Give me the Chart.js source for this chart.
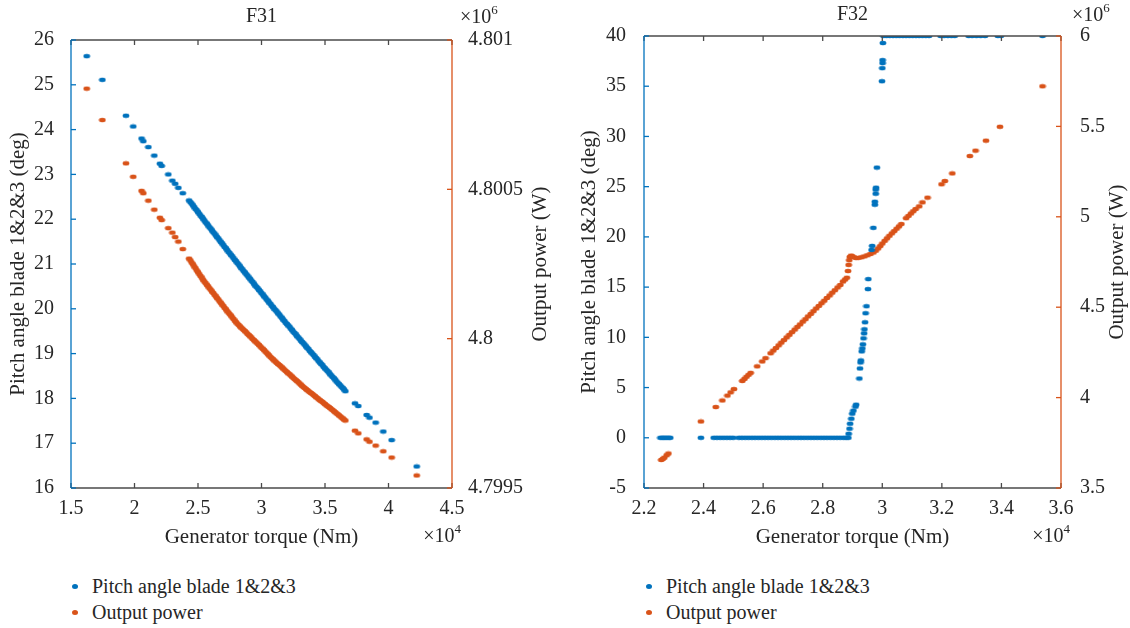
<!DOCTYPE html>
<html>
<head>
<meta charset="utf-8">
<script src="https://cdn.jsdelivr.net/npm/chart.js@4/dist/chart.umd.min.js"></script>
<style>
  body { margin: 0; background: #fff; width: 1130px; height: 628px; overflow: hidden; position: relative;
         font-family: "Liberation Serif", serif; color: #262626; }
  .panel { position: absolute; top: 0; height: 560px; }
  #panel1 { left: 0; width: 570px; }
  #panel2 { left: 570px; width: 560px; }
  .legend { position: absolute; top: 573px; font-size: 20px; line-height: 26px; }
  .legend div { position: relative; white-space: nowrap; }
  .legend span { position: absolute; left: -20px; top: 11px; width: 6px; height: 5px; border-radius: 50%; }
</style>
</head>
<body>
<div class="panel" id="panel1"><canvas id="f31" width="570" height="560"></canvas></div>
<div class="panel" id="panel2"><canvas id="f32" width="560" height="560"></canvas></div>
<div class="legend" style="left:92px">
  <div><span style="background:#0072BD"></span>Pitch angle blade 1&amp;2&amp;3</div>
  <div><span style="background:#D95319"></span>Output power</div>
</div>
<div class="legend" style="left:666px">
  <div><span style="background:#0072BD"></span>Pitch angle blade 1&amp;2&amp;3</div>
  <div><span style="background:#D95319"></span>Output power</div>
</div>
<script>
const BLUE = '#0072BD';
const ORANGE = '#D95319';
const INK = '#262626';
const FONT = '"Liberation Serif", "Times New Roman", serif';

// ---- F31: torque in 1e4 Nm, pitch in deg, power in 1e6 W ----
const f31Torque = [
  1.624, 1.747, 1.933, 1.990, 2.056, 2.069, 2.109, 2.156, 2.200, 2.214, 2.266, 2.298, 2.320, 2.345, 2.380,
  2.43, 2.44, 2.45, 2.46, 2.47, 2.48, 2.49, 2.50, 2.51, 2.52,
  2.53, 2.54, 2.55, 2.56, 2.57, 2.58, 2.59, 2.60, 2.61, 2.62,
  2.63, 2.64, 2.65, 2.66, 2.67, 2.68, 2.69, 2.70, 2.71, 2.72,
  2.73, 2.74, 2.75, 2.76, 2.77, 2.78, 2.79, 2.80, 2.81, 2.82,
  2.83, 2.84, 2.85, 2.86, 2.87, 2.88, 2.89, 2.90, 2.91, 2.92,
  2.93, 2.94, 2.95, 2.96, 2.97, 2.98, 2.99, 3.00, 3.01, 3.02,
  3.03, 3.04, 3.05, 3.06, 3.07, 3.08, 3.09, 3.10, 3.11, 3.12,
  3.13, 3.14, 3.15, 3.16, 3.17, 3.18, 3.19, 3.20, 3.21, 3.22,
  3.23, 3.24, 3.25, 3.26, 3.27, 3.28, 3.29, 3.30, 3.31, 3.32,
  3.33, 3.34, 3.35, 3.36, 3.37, 3.38, 3.39, 3.40, 3.41, 3.42,
  3.43, 3.44, 3.45, 3.46, 3.47, 3.48, 3.49, 3.50, 3.51, 3.52,
  3.53, 3.54, 3.55, 3.56, 3.57, 3.58, 3.59, 3.60, 3.61, 3.62,
  3.63, 3.64, 3.65, 3.66,
  3.736, 3.762, 3.828, 3.850, 3.899, 3.959, 4.025, 4.222
];
const f31Pitch = [
  25.64, 25.11, 24.31, 24.07, 23.80, 23.74, 23.61, 23.42, 23.24, 23.19, 23.00, 22.86, 22.79, 22.70, 22.58,
  22.42, 22.38, 22.35, 22.31, 22.27, 22.23, 22.20, 22.16, 22.12, 22.08,
  22.05, 22.01, 21.97, 21.93, 21.90, 21.86, 21.82, 21.79, 21.75, 21.71,
  21.68, 21.64, 21.60, 21.57, 21.53, 21.49, 21.46, 21.42, 21.38, 21.35,
  21.31, 21.27, 21.24, 21.20, 21.17, 21.13, 21.09, 21.06, 21.02, 20.99,
  20.95, 20.91, 20.88, 20.84, 20.81, 20.77, 20.74, 20.70, 20.67, 20.63,
  20.60, 20.56, 20.52, 20.49, 20.46, 20.42, 20.39, 20.35, 20.32, 20.28,
  20.25, 20.21, 20.18, 20.14, 20.11, 20.07, 20.04, 20.00, 19.97, 19.94,
  19.90, 19.87, 19.83, 19.80, 19.76, 19.73, 19.69, 19.66, 19.63, 19.60,
  19.56, 19.53, 19.49, 19.46, 19.43, 19.39, 19.36, 19.33, 19.29, 19.26,
  19.23, 19.20, 19.16, 19.13, 19.10, 19.06, 19.03, 19.00, 18.97, 18.93,
  18.90, 18.87, 18.83, 18.80, 18.77, 18.74, 18.70, 18.67, 18.64, 18.61,
  18.58, 18.54, 18.51, 18.48, 18.45, 18.42, 18.38, 18.35, 18.32, 18.29,
  18.26, 18.23, 18.20, 18.16,
  17.89, 17.83, 17.63, 17.57, 17.46, 17.26, 17.07, 16.48
];
const f31Power = [
  4.800837, 4.800732, 4.800587, 4.800542, 4.800495, 4.800487, 4.800462, 4.800432, 4.800405, 4.800397,
  4.800370, 4.800355, 4.800340, 4.800325, 4.800300,
  4.800268, 4.800262, 4.800255, 4.800249, 4.800242, 4.800236, 4.800229, 4.800223, 4.800216, 4.800210,
  4.800204, 4.800197, 4.800191, 4.800186, 4.800180, 4.800175, 4.800169, 4.800164, 4.800158, 4.800153,
  4.800147, 4.800142, 4.800136, 4.800131, 4.800125, 4.800120, 4.800114, 4.800109, 4.800103, 4.800098,
  4.800092, 4.800087, 4.800082, 4.800077, 4.800071, 4.800066, 4.800060, 4.800055, 4.800050, 4.800046,
  4.800041, 4.800037, 4.800033, 4.800029, 4.800025, 4.800021, 4.800016, 4.800012, 4.800008, 4.800004,
  4.799999, 4.799995, 4.799991, 4.799987, 4.799983, 4.799979, 4.799974, 4.799970, 4.799966, 4.799962,
  4.799957, 4.799953, 4.799948, 4.799944, 4.799939, 4.799935, 4.799931, 4.799927, 4.799923, 4.799919,
  4.799915, 4.799912, 4.799908, 4.799904, 4.799900, 4.799896, 4.799892, 4.799888, 4.799884, 4.799881,
  4.799877, 4.799873, 4.799869, 4.799865, 4.799861, 4.799858, 4.799854, 4.799850, 4.799846, 4.799842,
  4.799838, 4.799835, 4.799831, 4.799828, 4.799824, 4.799821, 4.799818, 4.799815, 4.799811, 4.799808,
  4.799804, 4.799801, 4.799797, 4.799794, 4.799791, 4.799788, 4.799784, 4.799781, 4.799777, 4.799774,
  4.799771, 4.799768, 4.799764, 4.799761, 4.799757, 4.799754, 4.799750, 4.799747, 4.799743, 4.799740,
  4.799736, 4.799733, 4.799729, 4.799726,
  4.799692, 4.799683, 4.799663, 4.799655, 4.799642, 4.799623, 4.799602, 4.799542
];
const f31TorqueTicks = [1.5, 2, 2.5, 3, 3.5, 4, 4.5];
const f31PitchTicks = [16, 17, 18, 19, 20, 21, 22, 23, 24, 25, 26];
const f31PowerTicks = [4.7995, 4.8, 4.8005, 4.801];

// ---- F32 ----
const f32PitchTorque = [
  2.255, 2.262, 2.268, 2.275, 2.282, 2.288, 2.391,
  2.434, 2.445, 2.456, 2.467, 2.478, 2.489, 2.500, 2.518, 2.529, 2.540, 2.551, 2.562, 2.573, 2.584,
  2.595, 2.606, 2.617, 2.628, 2.639, 2.650, 2.661, 2.672, 2.683, 2.694, 2.705, 2.716, 2.727, 2.738,
  2.749, 2.760, 2.771, 2.782, 2.793, 2.804, 2.815, 2.826, 2.837, 2.848, 2.859, 2.870, 2.879, 2.886,
  2.887, 2.890, 2.892, 2.896, 2.899, 2.903, 2.910, 2.912,
  2.923, 2.925, 2.927, 2.928, 2.931, 2.933, 2.935, 2.937, 2.939, 2.940, 2.942, 2.944, 2.947, 2.952, 2.953,
  2.964, 2.966, 2.970, 2.975, 2.975, 2.978, 2.978, 2.979, 2.982, 2.999, 3.000, 3.001, 3.001, 3.002,
  3.004, 3.014, 3.025, 3.036, 3.047, 3.058, 3.069, 3.080, 3.091, 3.102, 3.113, 3.124, 3.135, 3.146,
  3.157, 3.196, 3.208, 3.220, 3.232, 3.243, 3.290, 3.302, 3.316, 3.330, 3.345, 3.388, 3.398, 3.538
];
const f32Pitch = [
  0, 0, 0, 0, 0, 0, 0,
  0, 0, 0, 0, 0, 0, 0, 0, 0, 0, 0, 0, 0, 0,
  0, 0, 0, 0, 0, 0, 0, 0, 0, 0, 0, 0, 0, 0,
  0, 0, 0, 0, 0, 0, 0, 0, 0, 0, 0, 0, 0, 0,
  0.4, 0.9, 1.4, 1.9, 2.4, 2.7, 3.1, 3.3,
  5.9, 6.9, 7.5, 7.7, 8.6, 8.9, 9.3, 9.9, 10.4, 10.8, 11.5, 12.4, 13.1, 14.8, 15.8,
  18.7, 19.1, 20.9, 23.2, 23.5, 24.3, 24.7, 24.9, 26.9, 35.5, 36.8, 37.3, 37.6, 39.3,
  40, 40, 40, 40, 40, 40, 40, 40, 40, 40, 40, 40, 40, 40,
  40, 40, 40, 40, 40, 40, 40, 40, 40, 40, 40, 40, 40, 40
];
const f32PowerTorque = [
  2.258, 2.263, 2.268, 2.276, 2.282, 2.391,
  2.441, 2.463, 2.480, 2.491, 2.502, 2.530, 2.537, 2.544, 2.551, 2.558, 2.580, 2.597, 2.608,
  2.625, 2.634, 2.643, 2.652, 2.661, 2.670, 2.679, 2.688, 2.697, 2.706, 2.715, 2.724, 2.733, 2.742,
  2.751, 2.760, 2.769, 2.778, 2.787, 2.796, 2.805, 2.814, 2.823, 2.832, 2.841, 2.850, 2.859, 2.868,
  2.875, 2.881,
  2.885, 2.887, 2.889, 2.891, 2.895, 2.899, 2.905, 2.912, 2.920, 2.930, 2.940, 2.950, 2.960, 2.970,
  2.978, 2.986, 2.993, 3.000, 3.008, 3.016, 3.024, 3.032, 3.040, 3.048, 3.056, 3.064,
  3.080, 3.088, 3.096, 3.104, 3.112, 3.124, 3.135, 3.152,
  3.199, 3.210, 3.235, 3.294, 3.313, 3.348, 3.395, 3.538
];
const f32Power = [
  3.655, 3.661, 3.668, 3.681, 3.691, 3.868,
  3.948, 3.984, 4.011, 4.029, 4.047, 4.092, 4.103, 4.115, 4.126, 4.137, 4.173, 4.200, 4.218,
  4.245, 4.260, 4.274, 4.289, 4.304, 4.318, 4.333, 4.347, 4.362, 4.376, 4.391, 4.405, 4.420, 4.434,
  4.449, 4.463, 4.478, 4.493, 4.507, 4.522, 4.536, 4.551, 4.565, 4.580, 4.594, 4.609, 4.623, 4.642,
  4.653, 4.663,
  4.700, 4.734, 4.760, 4.778, 4.785, 4.782, 4.776, 4.772, 4.773, 4.776, 4.781, 4.787, 4.794, 4.802,
  4.812, 4.825, 4.838, 4.852, 4.867, 4.881, 4.895, 4.908, 4.921, 4.934, 4.947, 4.960,
  4.992, 5.005, 5.018, 5.031, 5.043, 5.058, 5.080, 5.106,
  5.180, 5.198, 5.240, 5.336, 5.366, 5.421, 5.498, 5.722
];
const f32TorqueTicks = [2.2, 2.4, 2.6, 2.8, 3, 3.2, 3.4, 3.6];
const f32PitchTicks = [-5, 0, 5, 10, 15, 20, 25, 30, 35, 40];
const f32PowerTicks = [3.5, 4, 4.5, 5, 5.5, 6];

// small flat ellipse used as marker
function dot(color) {
  const c = document.createElement('canvas');
  c.width = 8; c.height = 6;
  const g = c.getContext('2d');
  g.fillStyle = color;
  g.beginPath();
  g.ellipse(4, 3, 3.4, 2.2, 0, 0, Math.PI * 2);
  g.fill();
  return c;
}

function pairs(xs, ys) {
  return xs.map((x, i) => ({ x: x, y: ys[i] }));
}

function fixedTicks(values) {
  return function (scale) { scale.ticks = values.map(v => ({ value: v })); };
}

function axis(o) {
  const horizontal = o.position === 'bottom';
  return {
    type: 'linear',
    position: o.position,
    min: o.min,
    max: o.max,
    afterBuildTicks: fixedTicks(o.ticks),
    afterFit: s => { if (horizontal) s.height = o.size; else s.width = o.size; },
    grid: { display: false },
    border: { display: false },
    ticks: {
      autoSkip: false,
      maxRotation: 0,
      padding: o.tickPad,
      color: INK,
      font: { family: FONT, size: 20 },
      callback: v => String(v)
    },
    title: {
      display: !!o.title,
      text: o.title || '',
      color: INK,
      font: { family: FONT, size: 21 },
      padding: horizontal ? { top: 0, bottom: o.titlePad } : { top: o.titlePad, bottom: 0 }
    }
  };
}

// ×10^n label
function exponentLabel(ctx, n, x, y, alignRight) {
  ctx.font = '20px ' + FONT;
  const w1 = ctx.measureText('\u00d710').width;
  ctx.font = '13px ' + FONT;
  const w2 = ctx.measureText(n).width;
  const x0 = alignRight ? x - w1 - w2 : x;
  ctx.textAlign = 'left';
  ctx.textBaseline = 'middle';
  ctx.font = '20px ' + FONT;
  ctx.fillText('\u00d710', x0, y);
  ctx.font = '13px ' + FONT;
  ctx.fillText(n, x0 + w1, y - 7);
}

// MATLAB-style box with inward ticks, coloured y axes, title, right axis label and exponents
const frame = {
  id: 'frame',
  afterDatasetsDraw(chart, args, opts) {
    const { ctx, chartArea: a, scales } = chart;
    const seg = (x1, y1, x2, y2) => { ctx.beginPath(); ctx.moveTo(x1, y1); ctx.lineTo(x2, y2); ctx.stroke(); };
    ctx.save();
    ctx.lineWidth = 1.3;

    ctx.strokeStyle = '#4a4a4a';
    seg(a.left, a.top, a.right, a.top);
    seg(a.left, a.bottom, a.right, a.bottom);
    scales.x.ticks.forEach(t => {
      const px = scales.x.getPixelForValue(t.value);
      seg(px, a.bottom, px, a.bottom - 5);
      seg(px, a.top, px, a.top + 5);
    });

    ctx.strokeStyle = BLUE;
    seg(a.left, a.top, a.left, a.bottom);
    scales.y.ticks.forEach(t => {
      const py = scales.y.getPixelForValue(t.value);
      seg(a.left, py, a.left + 5, py);
    });

    ctx.strokeStyle = ORANGE;
    seg(a.right, a.top, a.right, a.bottom);
    scales.y2.ticks.forEach(t => {
      const py = scales.y2.getPixelForValue(t.value);
      seg(a.right, py, a.right - 5, py);
    });

    ctx.fillStyle = INK;
    ctx.font = '20px ' + FONT;
    ctx.textAlign = 'center';
    ctx.textBaseline = 'middle';
    ctx.fillText(opts.title, (a.left + a.right) / 2, opts.titleY);

    // right axis label reads bottom to top, like the left one
    ctx.save();
    ctx.translate(opts.rightTitleX, (a.top + a.bottom) / 2);
    ctx.rotate(-Math.PI / 2);
    ctx.font = '21px ' + FONT;
    ctx.fillText('Output power (W)', 0, 0);
    ctx.restore();

    exponentLabel(ctx, '6', a.right + opts.expPad, opts.titleY + 1, false);
    exponentLabel(ctx, '4', a.right + 9, 537, true);
    ctx.restore();
  }
};

function makeChart(id, o) {
  return new Chart(document.getElementById(id), {
    type: 'scatter',
    data: {
      datasets: [
        { label: 'Pitch angle blade 1&2&3', data: pairs(o.torque, o.pitch), yAxisID: 'y',
          pointStyle: dot(BLUE), pointRadius: 3, backgroundColor: BLUE, clip: 0 },
        { label: 'Output power', data: pairs(o.powerTorque, o.power), yAxisID: 'y2',
          pointStyle: dot(ORANGE), pointRadius: 3, backgroundColor: ORANGE, clip: 0 }
      ]
    },
    options: {
      responsive: false,
      animation: false,
      devicePixelRatio: 1,
      layout: { padding: { top: o.top, left: 0, right: 0, bottom: 0 } },
      events: [],
      plugins: {
        legend: { display: false },
        tooltip: { enabled: false },
        frame: { title: o.title, titleY: o.titleY, expPad: o.expPad, rightTitleX: o.rightTitleX }
      },
      scales: {
        x: axis({ position: 'bottom', min: o.xTicks[0], max: o.xTicks[o.xTicks.length - 1], ticks: o.xTicks,
                  size: 72, tickPad: 1, title: 'Generator torque (Nm)', titlePad: 10.4 }),
        y: axis({ position: 'left', min: o.yTicks[0], max: o.yTicks[o.yTicks.length - 1], ticks: o.yTicks,
                  size: o.leftW, tickPad: o.leftPad, title: 'Pitch angle blade 1&2&3 (deg)', titlePad: o.leftTitlePad }),
        y2: axis({ position: 'right', min: o.y2Ticks[0], max: o.y2Ticks[o.y2Ticks.length - 1], ticks: o.y2Ticks,
                   size: o.rightW, tickPad: o.rightPad })
      }
    },
    plugins: [frame]
  });
}

makeChart('f31', {
  title: 'F31', titleY: 17, top: 40, expPad: 8,
  torque: f31Torque, pitch: f31Pitch, powerTorque: f31Torque, power: f31Power,
  xTicks: f31TorqueTicks, yTicks: f31PitchTicks, y2Ticks: f31PowerTicks,
  leftW: 71, leftPad: 9, leftTitlePad: 5.4,
  rightW: 118, rightPad: 8, rightTitleX: 540
});

makeChart('f32', {
  title: 'F32', titleY: 15, top: 36, expPad: 11,
  torque: f32PitchTorque, pitch: f32Pitch, powerTorque: f32PowerTorque, power: f32Power,
  xTicks: f32TorqueTicks, yTicks: f32PitchTicks, y2Ticks: f32PowerTicks,
  leftW: 74, leftPad: 10, leftTitlePad: 7,
  rightW: 69, rightPad: 11, rightTitleX: 547
});
</script>
</body>
</html>
